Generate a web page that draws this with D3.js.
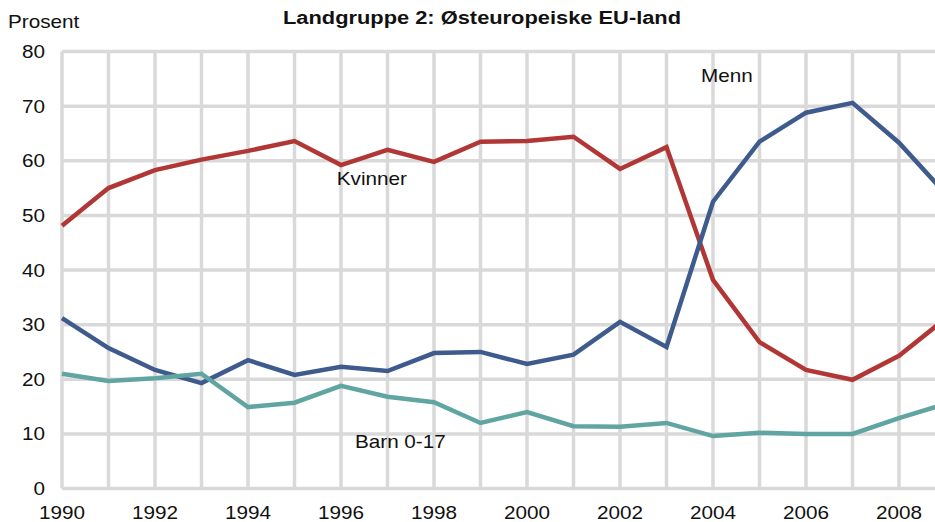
<!DOCTYPE html>
<html>
<head>
<meta charset="utf-8">
<script src="https://cdn.jsdelivr.net/npm/d3@7"></script>
<style>
  body { margin: 0; background: #fff; }
  text { font-family: "Liberation Sans", Arial, sans-serif; fill: #111; }
</style>
</head>
<body>
<script>
var years = [1990,1991,1992,1993,1994,1995,1996,1997,1998,1999,2000,2001,2002,2003,2004,2005,2006,2007,2008,2009]
var kvinner = [48.1,55.0,58.3,60.2,61.8,63.6,59.2,62.0,59.8,63.5,63.6,64.4,58.5,62.5,38.2,26.8,21.7,19.9,24.3,31.1]
var menn = [31.2,25.7,21.7,19.3,23.5,20.8,22.3,21.5,24.8,25.0,22.8,24.5,30.5,25.9,52.5,63.5,68.8,70.6,63.3,54.0]
var barn = [21.0,19.7,20.2,21.0,14.9,15.7,18.8,16.8,15.8,12.0,14.0,11.4,11.3,12.0,9.6,10.2,10.0,10.0,12.9,15.5]
var yTicks = [0,10,20,30,40,50,60,70,80]
var xTicks = [1990,1992,1994,1996,1998,2000,2002,2004,2006,2008]

var series = [
  {name:"Kvinner", values:kvinner, color:"#b13636", label:[1995.91, 185]},
  {name:"Menn", values:menn, color:"#3f5a8c", label:[2003.74, 82]},
  {name:"Barn 0-17", values:barn, color:"#60a5a1", label:[1996.3, 448]}
]

var width = 935, height = 522
var sx = 1.15 // text in the original is a bit wide

var svg = d3.select("body").append("svg")
  .attr("width", width)
  .attr("height", height)

var x = d3.scaleLinear().domain([1990,2009]).range([62, 945.5])
var y = d3.scaleLinear().domain([0,80]).range([488.5, 51.5])

svg.append("defs").append("clipPath").attr("id","clip")
  .append("rect").attr("x",0).attr("y",0).attr("width",width).attr("height",height)

var addText = function(px, py, str, anchor, size, bold){
  return svg.append("text")
    .attr("transform", "translate(" + px + "," + py + ") scale(" + sx + ",1)")
    .attr("text-anchor", anchor)
    .style("font-size", size + "px")
    .style("font-weight", bold ? "bold" : "normal")
    .text(str)
}

var grid = svg.append("g")
grid.selectAll("line.v").data(years).enter().append("line")
  .attr("x1", function(d){return x(d)})
  .attr("x2", function(d){return x(d)})
  .attr("y1", y(80)).attr("y2", y(0))
  .style("stroke", "#d9d9d9").style("stroke-width", 3.5)
grid.selectAll("line.h").data(yTicks).enter().append("line")
  .attr("x1", x(1990)).attr("x2", width)
  .attr("y1", function(d){return y(d)})
  .attr("y2", function(d){return y(d)})
  .style("stroke", "#d9d9d9").style("stroke-width", 3.5)

yTicks.forEach(function(d){
  addText(45, y(d) + 6.5, d, "end", 18, false)
})
xTicks.forEach(function(d){
  addText(x(d), 519, d, "middle", 18, false)
})

addText(8, 28, "Prosent", "start", 18, false)
addText(482, 23.5, "Landgruppe 2: Østeuropeiske EU-land", "middle", 19, true)

var line = d3.line()
  .x(function(d,i){return x(years[i])})
  .y(function(d){return y(d)})

var lines = svg.append("g").attr("clip-path","url(#clip)")
series.forEach(function(s){
  lines.append("path")
    .attr("d", line(s.values))
    .style("fill","none")
    .style("stroke", s.color)
    .style("stroke-width", 4.5)
})

series.forEach(function(s){
  addText(x(s.label[0]), s.label[1], s.name, "start", 18, false)
})
</script>
</body>
</html>
